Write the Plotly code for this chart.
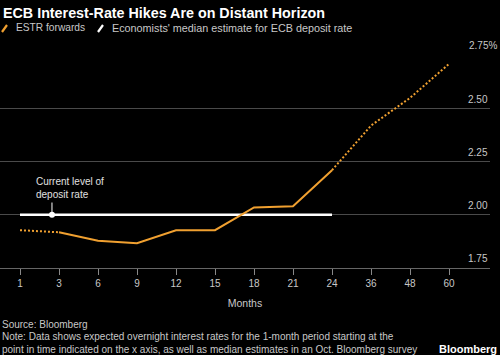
import plotly.graph_objects as go

months = ["1", "3", "6", "9", "12", "15", "18", "21", "24", "36", "48", "60"]
estr_forwards = [1.928, 1.918, 1.878, 1.867, 1.927, 1.928, 2.035, 2.04, 2.21, 2.42, 2.55, 2.71]
economists_median = [2.00, 2.00, 2.00, 2.00, 2.00, 2.00, 2.00, 2.00, 2.00]
y_ticks = [1.75, 2.00, 2.25, 2.50, 2.75]
y_tick_text = ["1.75", "2.00", "2.25", "2.50", "2.75%"]
current_rate = 2.00

ORANGE = "#f0a030"
GRID = "#4a4a4a"
TXT = "#c8c8c8"
FONT = "Liberation Sans"

W, H = 500, 355
L, R, T, B = 0, 10, 55, 87
PW, PH = W - L - R, H - T - B

def px_x(px):
    return (px - L) / PW

def px_y(py):
    return (H - B - py) / PH

idx = list(range(len(months)))

fig = go.Figure()
# economists' median (white)
fig.add_trace(go.Scatter(x=idx[:len(economists_median)], y=economists_median, mode="lines",
                         line=dict(color="#ffffff", width=2.5), name="Economists' median estimate for ECB deposit rate",
                         hoverinfo="skip"))
# ESTR forwards: dotted start, solid middle, dotted end
fig.add_trace(go.Scatter(x=idx[0:2], y=estr_forwards[0:2], mode="lines",
                         line=dict(color=ORANGE, width=2, dash="2px,2px"), name="ESTR forwards"))
fig.add_trace(go.Scatter(x=idx[1:9], y=estr_forwards[1:9], mode="lines",
                         line=dict(color=ORANGE, width=2), name="ESTR forwards"))
fig.add_trace(go.Scatter(x=idx[8:], y=estr_forwards[8:], mode="lines",
                         line=dict(color=ORANGE, width=2, dash="2px,2px"), name="ESTR forwards"))
# current level marker
dot_x = 0.82
fig.add_trace(go.Scatter(x=[dot_x], y=[current_rate], mode="markers",
                         marker=dict(color="#ffffff", size=6), name="Current level"))

shapes = [
    dict(type="line", xref="x", yref="y", x0=dot_x, x1=dot_x, y0=current_rate, y1=current_rate + 0.058,
         line=dict(color="#ffffff", width=1)),
    # legend glyphs
    dict(type="line", xref="paper", yref="paper", x0=px_x(2), x1=px_x(7), y0=px_y(32), y1=px_y(25),
         line=dict(color=ORANGE, width=2.2)),
    dict(type="line", xref="paper", yref="paper", x0=px_x(98), x1=px_x(103), y0=px_y(32), y1=px_y(25),
         line=dict(color="#ffffff", width=2.2)),
]

ann = []
for v, t in zip(y_ticks, y_tick_text):
    ann.append(dict(xref="paper", yref="y", x=1, y=v, text=t, showarrow=False,
                    xanchor="right", yanchor="bottom", yshift=2, xshift=(9 if t.endswith("%") else 0),
                    font=dict(family=FONT, size=10, color=TXT)))
ann += [
    dict(xref="paper", yref="paper", x=px_x(1), y=px_y(13), text="<b>ECB Interest-Rate Hikes Are on Distant Horizon</b>",
         showarrow=False, xanchor="left", yanchor="middle", font=dict(family=FONT, size=14.3, color="#ffffff")),
    dict(xref="paper", yref="paper", x=px_x(14), y=px_y(28), text="ESTR forwards",
         showarrow=False, xanchor="left", yanchor="middle", font=dict(family=FONT, size=10.2, color=TXT)),
    dict(xref="paper", yref="paper", x=px_x(110), y=px_y(28), text="Economists' median estimate for ECB deposit rate",
         showarrow=False, xanchor="left", yanchor="middle", font=dict(family=FONT, size=10.8, color=TXT)),
    dict(xref="x", yref="y", x=dot_x - 0.46, y=current_rate + 0.06, text="Current level of<br>deposit rate",
         showarrow=False, xanchor="left", yanchor="bottom", align="left",
         font=dict(family=FONT, size=10, color="#e0e0e0")),
    dict(xref="paper", yref="paper", x=px_x(0), y=px_y(324), text="Source: Bloomberg",
         showarrow=False, xanchor="left", yanchor="middle", font=dict(family=FONT, size=10, color=TXT)),
    dict(xref="paper", yref="paper", x=px_x(0), y=px_y(343),
         text="Note: Data shows expected overnight interest rates for the 1-month period starting at the<br>point in time indicated on the x axis, as well as median estimates in an Oct. Bloomberg survey",
         showarrow=False, xanchor="left", yanchor="middle", align="left", font=dict(family=FONT, size=10, color=TXT)),
    dict(xref="paper", yref="paper", x=(W - 1 - L) / PW, y=px_y(349), text="<b>Bloomberg</b>",
         showarrow=False, xanchor="right", yanchor="middle", font=dict(family=FONT, size=11, color="#ffffff")),
]

fig.update_layout(
    width=W, height=H, margin=dict(l=L, r=R, t=T, b=B),
    paper_bgcolor="#000000", plot_bgcolor="#000000",
    showlegend=False, shapes=shapes, annotations=ann,
    xaxis=dict(range=[-20 / 39, 11 + 41 / 39], tickvals=idx, ticktext=months,
               showgrid=False, zeroline=False, showline=True, linecolor="#666666", linewidth=1,
               ticks="outside", ticklen=6, tickcolor="#888888", tickwidth=1,
               tickfont=dict(family=FONT, size=10, color=TXT),
               title=dict(text="Months", font=dict(family=FONT, size=10.5, color=TXT), standoff=11)),
    yaxis=dict(range=[1.75, 2.752], tickvals=y_ticks, showticklabels=False,
               showgrid=True, gridcolor=GRID, gridwidth=1, zeroline=False, fixedrange=True),
)
fig.write_html("out.html", config={"displayModeBar": False},
               post_script="document.body.style.margin='0';document.body.style.background='#000';")
